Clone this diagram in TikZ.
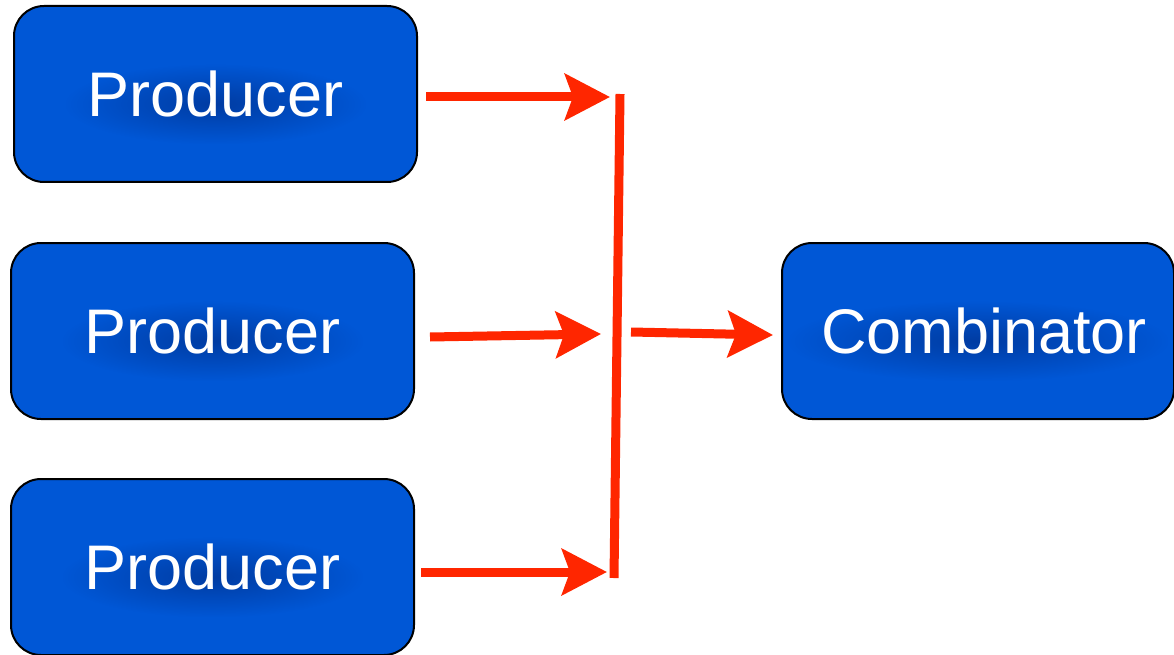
\documentclass[tikz,border=0pt]{standalone}
\usepackage{fontspec}
\setmainfont{Liberation Sans}
\usetikzlibrary{arrows.meta,calc,fadings}
\definecolor{boxblue}{HTML}{0057D6}
\definecolor{shadowblue}{HTML}{002A80}
\definecolor{arrred}{HTML}{FF2600}
\tikzfading[name=softglow, inner color=transparent!20, outer color=transparent!100]
\tikzset{
  box/.style={draw=black, line width=2pt, fill=boxblue, rounded corners=30pt,
    minimum width=403pt, minimum height=176pt, inner sep=0pt},
  lbl/.style={text=white, font=\fontsize{63}{63}\selectfont, inner sep=0pt},
  glow/.style={fill=shadowblue, opacity=0.75, path fading=softglow},
  conn/.style={draw=arrred, line width=9pt, -{Stealth[length=45pt,width=46pt,inset=8pt]}},
  bar/.style={draw=arrred, line width=9pt},
}
\begin{document}
\begin{tikzpicture}[x=1pt,y=-1pt]
\useasboundingbox (0,0) rectangle (1174,655);
\node[box] (p1) at (215.5,94) {};
\node[box] (p2) at (212.5,331) {};
\node[box] (p3) at (212.5,567) {};
\node[box, minimum width=392pt] (c) at (978,331) {};
% soft text shadows
\foreach \n/\w in {p1/150,p2/150,p3/150,c/190}{
  \fill[glow] ($(\n.center)+(-\w,-30)$) rectangle ($(\n.center)+(\w,50)$);
}
\node[lbl] (t1) at (p1.center) {Producer};
\node[lbl] (t2) at (p2.center) {Producer};
\node[lbl] (t3) at (p3.center) {Producer};
\node[lbl] (t4) at ($(c.center)+(6,0)$) {Combinator};
% bar
\coordinate (bt) at (620,94);
\coordinate (bb) at (614,578);
\draw[bar] (bt) -- (bb);
% arrow endpoints
\coordinate (s1) at (426,97);  \coordinate (e1) at (610,97);
\coordinate (s2) at (430,337); \coordinate (e2) at (601,334);
\coordinate (s3) at (421,572); \coordinate (e3) at (607,572);
\coordinate (s4) at (631,332); \coordinate (e4) at (773,335);
\draw[conn] (s1) -- (e1);
\draw[conn] (s2) -- (e2);
\draw[conn] (s3) -- (e3);
\draw[conn] (s4) -- (e4);
\end{tikzpicture}
\end{document}
